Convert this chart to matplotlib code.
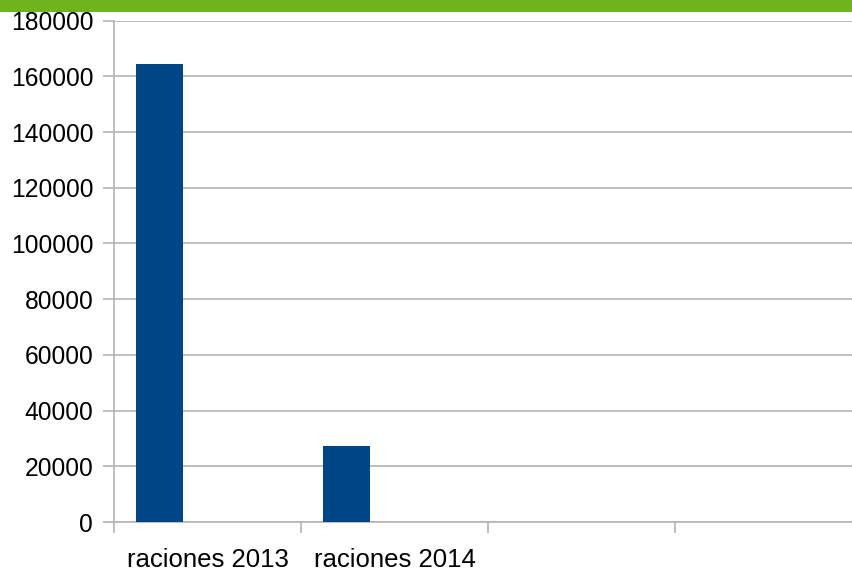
import numpy as np
import matplotlib.pyplot as plt
from matplotlib.patches import Rectangle

categories = ["raciones 2013", "raciones 2014", "", ""]
raciones = [164500, 27300, 0, 0]
y_ticks = [0, 20000, 40000, 60000, 80000, 100000, 120000, 140000, 160000, 180000]

plt.rcParams['font.family'] = ['Liberation Sans', 'DejaVu Sans']

W, H = 853, 568
fig = plt.figure(figsize=(W / 100, H / 100), dpi=100)

# green band at the top
fig.patches.append(Rectangle((0, 1 - 12 / H), 1, 12 / H, transform=fig.transFigure,
                             facecolor='#6fb31e', edgecolor='none', zorder=0))

ax = fig.add_axes([114 / W, 1 - 522 / H, (862 - 114) / W, (522 - 20.7) / H])

x = np.arange(len(categories))
ax.bar(x - 0.255, raciones, width=0.251, color='#004586', zorder=3)

ax.set_xlim(-0.5, len(categories) - 0.5)
ax.set_ylim(0, 180000)
ax.set_yticks(y_ticks)
ax.set_yticklabels([str(v) for v in y_ticks])
ax.set_xticks(x)
ax.set_xticklabels(categories)
ax.set_xticks(np.arange(len(categories) + 1) - 0.5, minor=True)

ax.grid(axis='y', color='#b3b3b3', linewidth=1.2, zorder=0)
for s in ['top', 'right']:
    ax.spines[s].set_visible(False)
for s in ['left', 'bottom']:
    ax.spines[s].set_color('#b3b3b3')
    ax.spines[s].set_linewidth(1.2)

ax.tick_params(axis='y', which='major', length=8, width=1.2, color='#b3b3b3',
               labelsize=17.7, pad=7)
ax.tick_params(axis='x', which='major', length=0, labelsize=18.5, pad=18.5)
ax.tick_params(axis='x', which='minor', length=8, width=1.2, color='#b3b3b3')

fig.savefig('out.png', dpi=100)
